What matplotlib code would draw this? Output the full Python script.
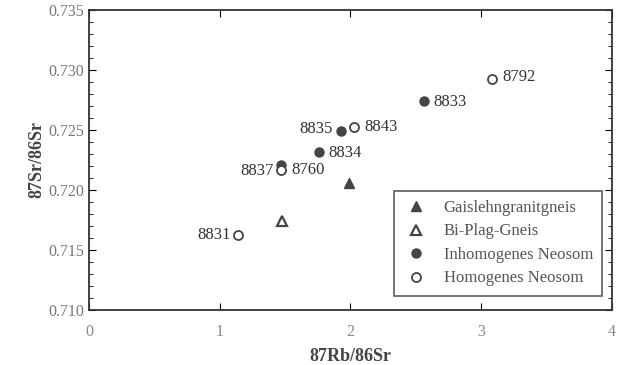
import matplotlib
matplotlib.use("Agg")
import matplotlib.pyplot as plt
from matplotlib.ticker import MultipleLocator, FormatStrFormatter

plt.rcParams["font.family"] = ["Liberation Serif", "DejaVu Serif"]

# data
gais_x = [1.99];  gais_y = [0.72056]
biplag_x = [1.48]; biplag_y = [0.71742]
inh_names = ["8833", "8835", "8834", "8760"]
inh_x = [2.56, 1.93, 1.76, 1.47]
inh_y = [0.72742, 0.72494, 0.72319, 0.72208]
hom_names = ["8792", "8843", "8837", "8831"]
hom_x = [3.08, 2.03, 1.47, 1.14]
hom_y = [0.72925, 0.72528, 0.72167, 0.71625]

fig = plt.figure(figsize=(6.22, 3.65), dpi=100)
ax = fig.add_axes([0.143, 0.151, 0.841, 0.822])
ax.set_xlim(0, 4); ax.set_ylim(0.710, 0.735)

mk = dict(color="#444", markersize=6.5, linestyle="none")
ax.plot(gais_x, gais_y, marker="^", label="Gaislehngranitgneis", **mk)
ax.plot(biplag_x, biplag_y, marker="^", mfc="white", mew=1.6,
        label="Bi-Plag-Gneis", **mk)
ax.plot(inh_x, inh_y, marker="o", label="Inhomogenes Neosom", **mk)
ax.plot(hom_x, hom_y, marker="o", mfc="white", mew=1.3,
        label="Homogenes Neosom", **mk)

# point labels: (dx, dy in points, ha)
offs = {"8833": (7, -1, "left"), "8835": (-6, 1, "right"), "8834": (7, -1, "left"),
        "8760": (7, -4, "left"), "8792": (8, 1, "left"), "8843": (7, 0, "left"),
        "8837": (-5, -1, "right"), "8831": (-5, 0, "right")}
for n, x, y in list(zip(inh_names, inh_x, inh_y)) + list(zip(hom_names, hom_x, hom_y)):
    dx, dy, ha = offs[n]
    ax.annotate(n, (x, y), xytext=(dx, dy), textcoords="offset points",
                ha=ha, va="center", fontsize=12, color="#333")

ax.xaxis.set_major_locator(MultipleLocator(1))
ax.yaxis.set_major_locator(MultipleLocator(0.005))
ax.yaxis.set_minor_locator(MultipleLocator(0.001))
ax.yaxis.set_major_formatter(FormatStrFormatter("%.3f"))
ax.tick_params(axis="x", which="major", direction="in", top=True, length=5,
               labelsize=11.5, labelcolor="#888", pad=10)
ax.tick_params(axis="y", which="both", direction="in", right=True,
               labelsize=11.5, labelcolor="#777")
ax.tick_params(axis="y", which="major", length=5)
ax.tick_params(axis="y", which="minor", length=3)
for s in ax.spines.values():
    s.set_linewidth(1.3); s.set_color("#333")

ax.set_xlabel("87Rb/86Sr", fontsize=13, fontweight="bold", color="#444", labelpad=6)
ax.set_ylabel("87Sr/86Sr", fontsize=13, fontweight="bold", color="#444", labelpad=2)

leg = ax.legend(loc="lower right", bbox_to_anchor=(0.997, 0.02), fontsize=12,
                frameon=True, fancybox=False, edgecolor="#333", handletextpad=0.9,
                borderpad=0.55, labelspacing=0.45, handlelength=1.5)
leg.get_frame().set_linewidth(1.2)
for t in leg.get_texts():
    t.set_color("#555")

fig.savefig("out.png", dpi=100, facecolor="white")
